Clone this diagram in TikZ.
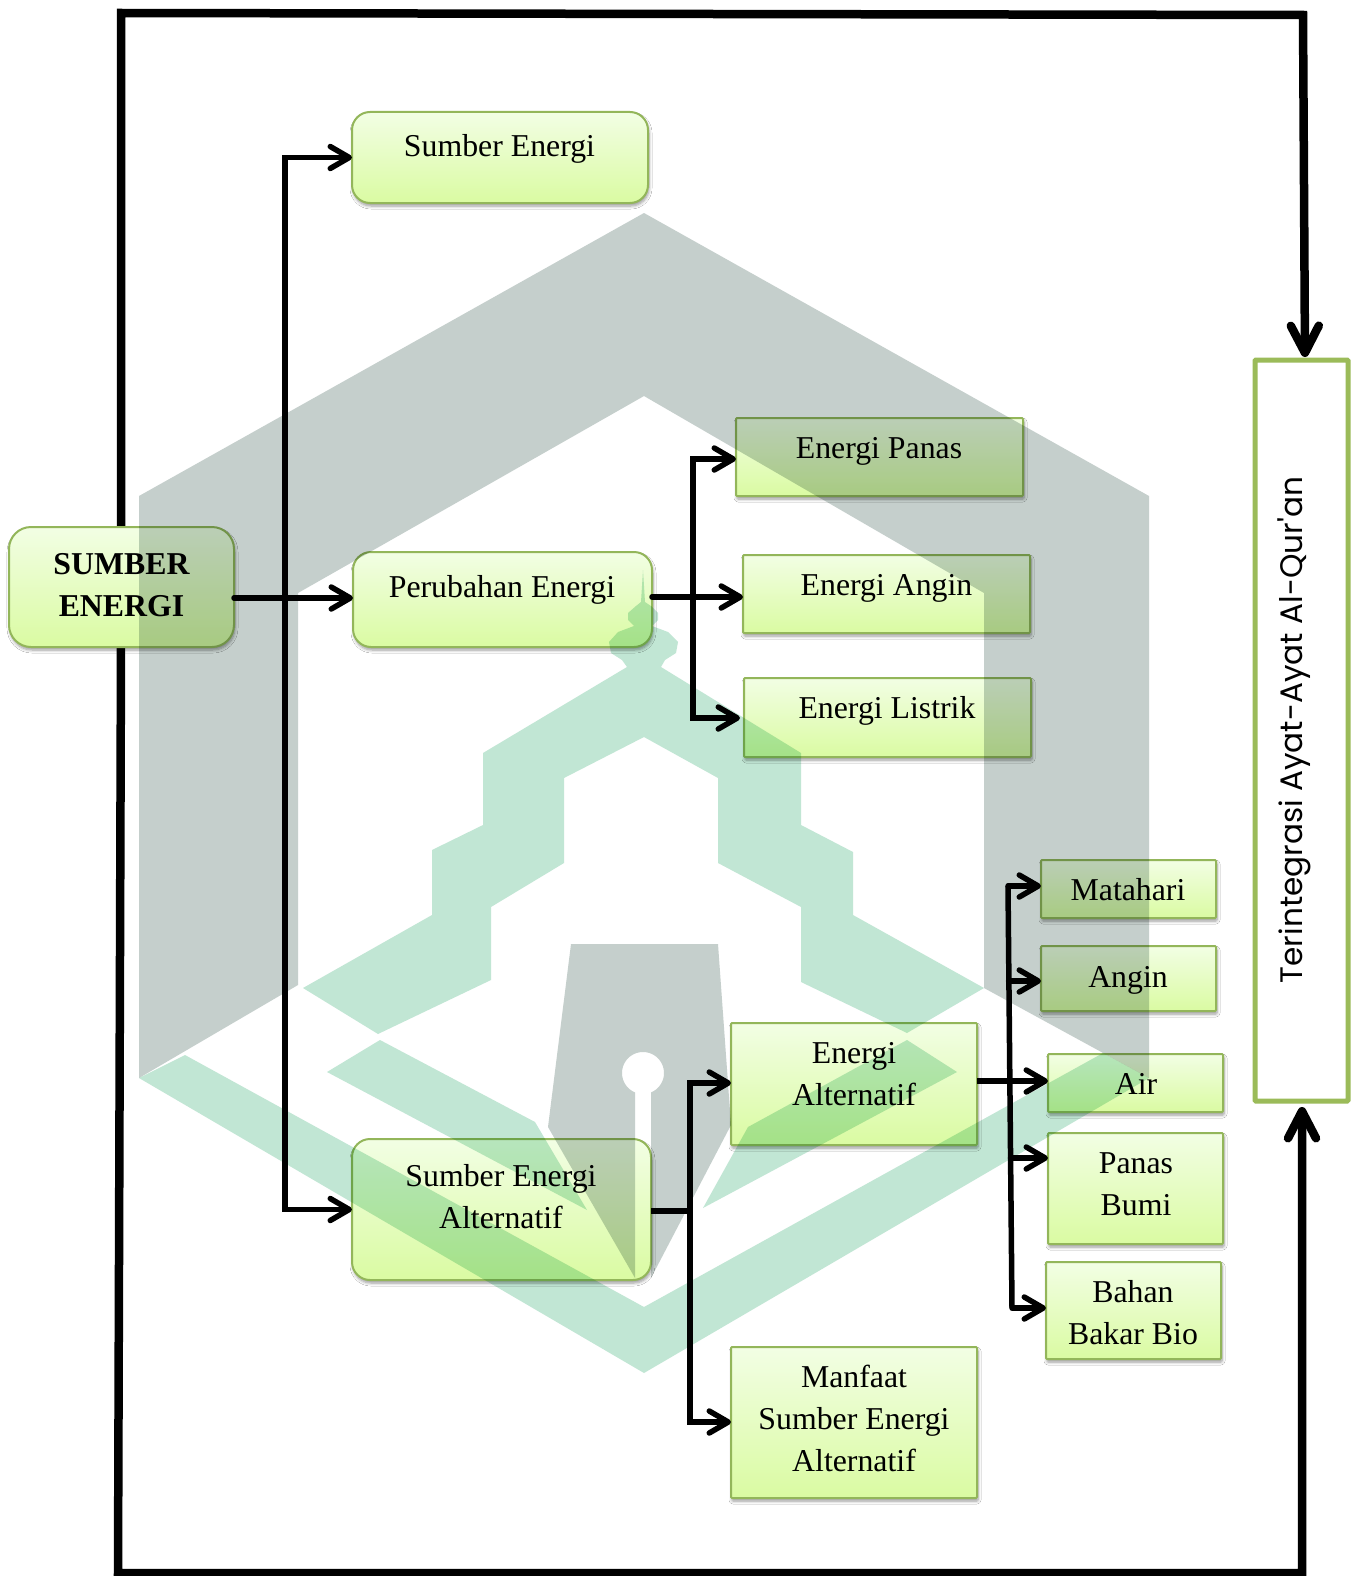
\documentclass[tikz,border=0pt]{standalone}
\usepackage{fontspec}
\setmainfont{Liberation Serif}
\newfontfamily\quran{Poppins}
\usetikzlibrary{arrows.meta,shadows.blur,calc}
\definecolor{edgeG}{HTML}{93B65A}
\definecolor{frameG}{HTML}{9BBB59}
\definecolor{wmGray}{HTML}{C5CFCC}
\definecolor{wmGreen}{HTML}{C1E6D4}
\definecolor{boxTop}{HTML}{F2FEE4}
\definecolor{boxBot}{HTML}{DAFBA2}
\tikzset{
  greenbox/.style={draw=edgeG,line width=2pt,top color=boxTop,bottom color=boxBot,inner sep=0pt,outer sep=0pt,
     blur shadow={shadow xshift=1pt,shadow yshift=-3pt,shadow blur steps=6,shadow blur radius=3pt,shadow opacity=40}},
  squarebox/.style={greenbox,rounded corners=1pt},
  roundbox/.style={greenbox,rounded corners=18pt},
  bigroundbox/.style={greenbox,rounded corners=22pt},
  sidebox/.style={draw=frameG,line width=5pt,fill=white,rounded corners=1pt,inner sep=0pt,outer sep=0pt},
  boxtext/.style={inner sep=0pt,align=center,font=\fontsize{31.8}{42}\selectfont,text=black},
  flow/.style={line width=5.5pt,draw=black,line cap=round,-{Straight Barb[length=19pt,width=22pt,line width=5.5pt,round]}},
  trunk/.style={line width=5.5pt,draw=black,line cap=butt},
  frameline/.style={line width=8.5pt,draw=black,line join=miter,-{Straight Barb[length=27pt,width=28pt,line width=8.5pt,round]}},
  wm/.style={blend mode=multiply},
}
\newcommand{\bx}[6]{%
  \pgfmathsetmacro\cxx{(#3+#5)/2}\pgfmathsetmacro\cyy{(#4+#6)/2}%
  \pgfmathsetmacro\ww{#5-#3}\pgfmathsetmacro\hh{#6-#4}%
  \node[#1,minimum width=\ww pt,minimum height=\hh pt] (#2) at (\cxx,\cyy) {};}
\begin{document}
\begin{tikzpicture}[x=1pt,y=-1pt]
\useasboundingbox (0,0) rectangle (1358,1576);
\fill[white] (0,0) rectangle (1358,1576);

% frame connectors (under the boxes)
\bx{sidebox}{ayat}{1255}{360}{1348}{1101}
\coordinate (fa) at (121,527);
\coordinate (fb) at (121,13);
\coordinate (fc) at (1303,15);
\coordinate (fd) at (121,647);
\coordinate (fe) at (118,1573);
\coordinate (ff) at (1302,1573);
\coordinate (fg) at (1305,360);
\coordinate (fh) at (1302,1101);
\draw[frameline,shorten >=3pt] (fa) -- (fb) -- (fc) -- (fg);
\draw[frameline,shorten >=6pt] (fd) -- (fe) -- (ff) -- (fh);

% boxes
\bx{bigroundbox}{sumber}{9}{527}{234}{647}
\bx{roundbox}{sumbere}{352}{112}{648}{203}
\bx{roundbox}{perubahan}{353}{552}{652}{647}
\bx{roundbox}{alt}{352}{1139}{651}{1280}
\bx{squarebox}{panas}{736}{418}{1023}{496}
\bx{squarebox}{angina}{743}{555}{1030}{633}
\bx{squarebox}{listrik}{744}{678}{1031}{757}
\bx{squarebox}{ealt}{731}{1023}{977}{1145}
\bx{squarebox}{manfaat}{731}{1347}{977}{1498}
\bx{squarebox}{matahari}{1041}{860}{1216}{918}
\bx{squarebox}{anginb}{1041}{946}{1216}{1011}
\bx{squarebox}{air}{1048}{1054}{1223}{1112}
\bx{squarebox}{bumi}{1048}{1133}{1223}{1244}
\bx{squarebox}{bio}{1046}{1262}{1221}{1359}

% texts
\node[boxtext,font=\fontsize{31.8}{42}\selectfont\bfseries] (t1) at (121.5,585) {SUMBER\\ENERGI};
\node[boxtext] (t2) at (499.5,148.5) {Sumber Energi};
\node[boxtext] (t3) at (502,590) {Perubahan Energi};
\node[boxtext] (t4) at (501,1196.5) {Sumber Energi\\Alternatif};
\node[boxtext] (t5) at (879,451) {Energi Panas};
\node[boxtext] (t6) at (886.5,588) {Energi Angin};
\node[boxtext] (t7) at (887,711) {Energi Listrik};
\node[boxtext] (t8) at (854,1074) {Energi\\Alternatif};
\node[boxtext] (t9) at (854,1418.5) {Manfaat\\Sumber Energi\\Alternatif};
\node[boxtext] (t10) at (1128,890) {Matahari};
\node[boxtext] (t11) at (1128,980) {Angin};
\node[boxtext] (t12) at (1136,1084) {Air};
\node[boxtext] (t13) at (1136,1184) {Panas\\Bumi};
\node[boxtext] (t14) at (1133,1313) {Bahan\\Bakar Bio};
\node[inner sep=0pt,rotate=90,font=\quran\fontsize{31.1}{36}\selectfont] (t15) at (1294,730) {Terintegrasi Ayat-Ayat Al-Qur'an};

% connectors
\coordinate (ja) at (285,598);
\draw[flow] (sumber.east |- ja) -- (perubahan.west |- ja);
\draw[flow] (ja) |- (sumbere.west);
\draw[flow] (ja) |- (alt.west);

\coordinate (jb) at (693,597);
\coordinate (jbt) at (693,459);
\coordinate (jbb) at (693,718);
\draw[flow] (perubahan.east |- jb) -- (angina.west |- jb);
\draw[flow] (jb) -- (jbt) -- (panas.west |- jbt);
\draw[flow,shorten >=4pt] (jb) -- (jbb) -- (listrik.west |- jbb);

\coordinate (jc) at (690,1211);
\coordinate (jct) at (690,1083);
\coordinate (jcb) at (690,1422);
\draw[trunk] (alt.east |- jc) -- (jc);
\draw[flow] (jc) -- (jct) -- (ealt.west |- jct);
\draw[flow] (jc) -- (jcb) -- (manfaat.west |- jcb);

\coordinate (jd1) at (1008,886);
\coordinate (jd2) at (1008.6,981);
\coordinate (jd3) at (1009.5,1081);
\coordinate (jd4) at (1010.5,1158);
\coordinate (jd5) at (1012,1308);
\draw[trunk] (ealt.east |- jd3) -- (jd3);
\draw[flow] (jd3) -- (air.west |- jd3);
\draw[trunk] (jd1) -- (jd5);
\draw[flow] (jd1) -- (matahari.west |- jd1);
\draw[flow] (jd2) -- (anginb.west |- jd2);
\draw[flow] (jd4) -- (bumi.west |- jd4);
\draw[flow] (jd5) -- (bio.west |- jd5);

% watermark, multiplied over everything
\begin{scope}[wm]
  % gray hexagon band
  \fill[wmGray] (644,213) -- (1149,496) -- (1149,1078) -- (984,988) -- (984,593) -- (644,396) -- (298,593) -- (298,985) -- (139,1078) -- (139,496) -- cycle;
  % pen nib with its hole and slit
  \fill[wmGray] (571,944) -- (718,944) -- (731,1125) -- (651,1278) -- (651,1092.4)
     -- plot[domain=427.6:112.4,samples=60] ({643+21*cos(\x)},{1073+21*sin(\x)})
     -- (635,1278) -- (548,1127) -- cycle;
  % green bottom chevron
  \fill[wmGreen] (139,1078) -- (185,1055) -- (644,1307) -- (1103,1053) -- (1149,1078) -- (644,1373) -- cycle;
  % green mosque
  \fill[wmGreen] (643,570) -- (645,602) -- (651,606) -- (658,613) -- (658,620) -- (652,626) -- (668,632) -- (678,642) -- (676,653) -- (665,660) -- (661,667)
    -- (801,753) -- (801,825) -- (853,852) -- (853,915) -- (984,988) -- (907,1033) -- (801,982) -- (801,907) -- (718,863) -- (718,778) -- (644,737)
    -- (564,778) -- (564,863) -- (491,907) -- (491,980) -- (378,1034) -- (303,988) -- (432,915) -- (432,850) -- (483,825) -- (483,753) -- (627,667)
    -- (622,660) -- (611,653) -- (609,642) -- (618,632) -- (634,626) -- (628,620) -- (628,613) -- (636,606) -- (641,602) -- cycle;
  % green wings beside the nib
  \fill[wmGreen] (327,1072) -- (380,1040) -- (535,1122) -- (587,1210) -- cycle;
  \fill[wmGreen] (907,1040) -- (957,1072) -- (703,1208) -- (748,1127) -- cycle;
\end{scope}
\end{tikzpicture}
\end{document}
